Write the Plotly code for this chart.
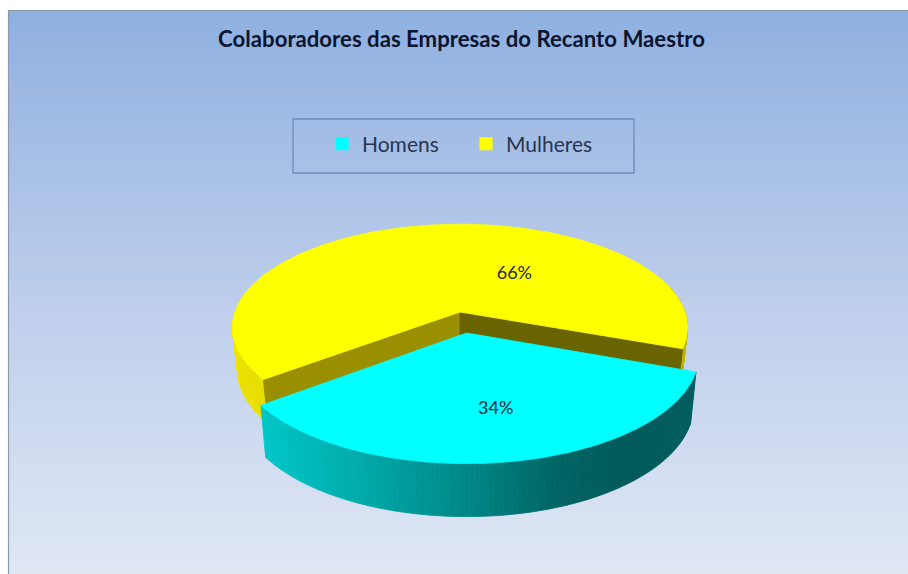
import math
import numpy as np
import plotly.graph_objects as go

# ---- data ----
categories = ["Homens", "Mulheres"]
values = [34, 66]
title_text = "Colaboradores das Empresas do Recanto Maestro"
colors_top = ["#00FFFF", "#FFFF00"]

# ---- projection of the tilted disc (canvas pixels) ----
START_DEG = 20.2            # where the first slice starts, clockwise on screen
GEOM = {
    "Homens": dict(c=(466.5, 333), R=228.0, B=105.0, K=0.196, depth=50),
    "Mulheres": dict(c=(460, 312), R=225.0, B=101.0, K=0.15, depth=42),
}
W, H = 908, 574


def proj(a_deg, g, r=1.0):
    u = r * math.cos(math.radians(a_deg))
    v = r * math.sin(math.radians(a_deg))
    w = 1 / (1 - g["K"] * v)
    return g["c"][0] + g["R"] * u * w, g["c"][1] + g["B"] * v * w


def lower(p, g, a_deg):
    v = math.sin(math.radians(a_deg))
    return g["c"][0] + (p[0] - g["c"][0]) * 0.977, p[1] + g["depth"] + 3 * v


def mix(stops, t):
    xs = [s[0] for s in stops]
    return "rgb(%d,%d,%d)" % tuple(
        np.interp(t, xs, [s[1][i] for s in stops]) for i in range(3)
    )


total = sum(values)
a_h0 = START_DEG
a_h1 = a_h0 + 360 * values[0] / total
a_m0 = a_h1
a_m1 = a_m0 + 360 * values[1] / total

fig = go.Figure()

# background gradient
n_rows = 141
y_edges = np.linspace(10, H, n_rows + 1)
grad_rows = np.linspace(0, 1, n_rows).reshape(-1, 1)
fig.add_trace(go.Heatmap(
    x=[8, W], y=y_edges, z=grad_rows,
    colorscale=[[0, "#8FB0E0"], [0.5, "#BCCDEB"], [1, "#E0E7F5"]],
    showscale=False, hoverinfo="skip",
))


def poly(pts, color, name=None):
    fig.add_trace(go.Scatter(
        x=[p[0] for p in pts] + [pts[0][0]], y=[p[1] for p in pts] + [pts[0][1]],
        mode="lines", fill="toself", fillcolor=color,
        line=dict(color=color, width=0.8), hoverinfo="skip", showlegend=False,
        name=name or "",
    ))


def wall(a0, a1, g, stops):
    step = 1.0
    n = max(1, int((a1 - a0) / step))
    ang = np.linspace(a0, a1, n + 1)
    for i in range(n):
        a, b = ang[i], ang[i + 1]
        if math.sin(math.radians((a + b) / 2)) < -0.25:
            continue
        pa, pb = proj(a, g), proj(b, g)
        t = math.cos(math.radians((a + b) / 2))
        poly([pa, pb, lower(pb, g, b), lower(pa, g, a)], mix(stops, t))


def top(a0, a1, g, color, name):
    ang = np.linspace(a0, a1, 240)
    pts = [g["c"]] + [proj(a, g) for a in ang]
    poly(pts, color, name)


yellow_stops = [(-1, (238, 228, 0)), (1, (190, 180, 0))]
cyan_stops = [(-0.95, (0, 228, 228)), (-0.8, (0, 200, 200)), (-0.37, (0, 170, 170)),
              (0.0, (0, 135, 135)), (0.33, (0, 100, 100)), (0.6, (0, 90, 90)), (1, (0, 95, 95))]

# Mulheres (back slice)
gm = GEOM["Mulheres"]
wall(a_m0, a_m1, gm, yellow_stops)
apex_low = (gm["c"][0], gm["c"][1] + gm["depth"])
tipL, tipR = proj(a_m0, gm), proj(a_m1, gm)
poly([gm["c"], tipL, lower(tipL, gm, a_m0), apex_low], "#998F00")
poly([gm["c"], tipR, lower(tipR, gm, a_m1), apex_low], "#696300")
top(a_m0, a_m1, gm, colors_top[1], categories[1])

# Homens (front, exploded slice)
gh = GEOM["Homens"]
wall(a_h0, a_h1, gh, cyan_stops)
top(a_h0, a_h1, gh, colors_top[0], categories[0])

# percentage labels
label_pos = {"Homens": (80, 0.645), "Mulheres": (303, 0.47)}
for cat, val in zip(categories, values):
    x, y = proj(label_pos[cat][0], GEOM[cat], label_pos[cat][1])
    fig.add_trace(go.Scatter(
        x=[x], y=[y], mode="text", text=[f"{val}%"],
        textfont=dict(family="Lato", size=18, color="#1C2A3A"),
        hoverinfo="skip", showlegend=False,
    ))

# legend entries
for cat, col in zip(categories, colors_top):
    fig.add_trace(go.Scatter(
        x=[None], y=[None], mode="markers", name=cat,
        marker=dict(symbol="square", size=13, color=col),
    ))

fig.update_layout(
    width=W, height=H, margin=dict(l=0, r=0, t=0, b=0),
    paper_bgcolor="white", plot_bgcolor="white", showlegend=True,
    xaxis=dict(range=[0, W], visible=False, fixedrange=True),
    yaxis=dict(range=[H, 0], visible=False, fixedrange=True),
    title=dict(text=f"<b>{title_text}</b>", x=461.5 / W, y=1 - 39 / H,
               xanchor="center", yanchor="middle",
               font=dict(family="Lato", size=22.2, color="#0B1530")),
    legend=dict(orientation="h", x=322 / W, y=1 - 144 / H, xanchor="left", yanchor="middle",
                bgcolor="rgba(0,0,0,0)", entrywidth=99, entrywidthmode="pixels",
                font=dict(family="Lato", size=21, color="#2A3550")),
    shapes=[
        dict(type="rect", xref="x", yref="y", x0=293, x1=634, y0=119, y1=173,
             line=dict(color="#6C8ABA", width=1.3), fillcolor="rgba(0,0,0,0)"),
        dict(type="line", xref="x", yref="y", x0=8.5, x1=8.5, y0=10, y1=H,
             line=dict(color="#8C9AAE", width=1.2)),
        dict(type="line", xref="x", yref="y", x0=8, x1=W, y0=10.5, y1=10.5,
             line=dict(color="#8C9AAE", width=1.2)),
    ],
)

fig.write_html("out.html", config={"displayModeBar": False},
               post_script="document.body.style.margin='0';")
